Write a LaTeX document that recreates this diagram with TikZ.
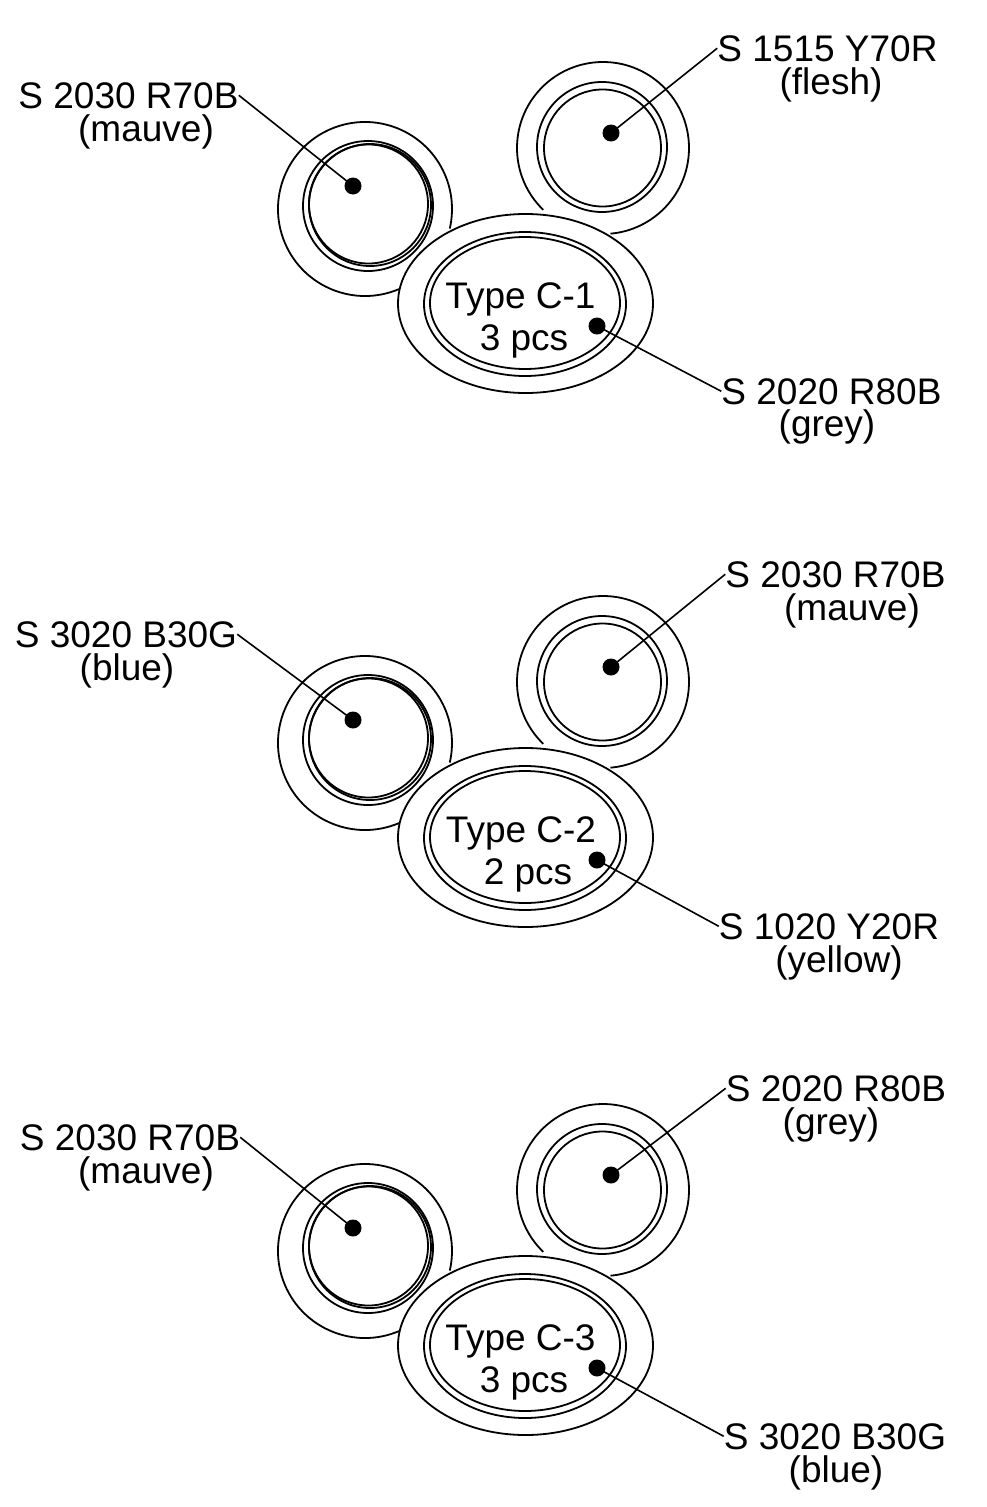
\documentclass[tikz,border=0pt]{standalone}
\usepackage{fontspec}
\setmainfont{Liberation Sans}
\tikzset{
  ring/.style={line width=1.8pt},
  dot/.style={circle, fill=black, inner sep=0pt, minimum size=17pt},
  lbl/.style={anchor=base, inner sep=0pt, font=\fontsize{37}{40}\selectfont},
  lead/.style={line width=1.6pt},
}
\newcommand\ringgroup[2]{%
 \begin{scope}[shift={(0,#2)}]
  % left circle
  \draw[ring] (365,209) ++(67:87) arc[start angle=67,end angle=373,radius=87];
  \draw[ring] (368,206) circle[radius=65];
  \draw[ring] (368.5,204) circle[radius=59.5];
  \draw[ring] (370,205) circle[radius=61];
  % top right circle
  \draw[ring] (603,148) ++(134:86) arc[start angle=134,end angle=445,radius=86];
  \draw[ring] (602,147) circle[radius=65];
  \draw[ring] (602.5,148) circle[radius=58.5];
  % ellipse
  \draw[ring] (525.5,303.5) ellipse[x radius=127.5, y radius=89.5];
  \draw[ring] (525,304) ellipse[x radius=101, y radius=72];
  \draw[ring] (525,303) ellipse[x radius=95, y radius=66];
  % dots
  \node[dot] (d#1L) at (353,186) {};
  \node[dot] (d#1R) at (611,133) {};
  \node[dot] (d#1E) at (597,326) {};
 \end{scope}}
\begin{document}
\begin{tikzpicture}[x=1pt,y=-1pt]
\useasboundingbox (0,0) rectangle (986,1507);
\fill[white] (0,0) rectangle (986,1507);

% ---------- group 1 ----------
\ringgroup{1}{0}
\node[lbl] (t1a) at (520.5,308) {Type C-1};
\node[lbl] (t1b) at (524,350) {3 pcs};
\node[lbl] (L1a) at (128.5,108) {S 2030 R70B};
\node[lbl] (L1b) at (146,141) {(mauve)};
\node[lbl] (R1a) at (827.5,61) {S 1515 Y70R};
\node[lbl] (R1b) at (831,94) {(flesh)};
\node[lbl] (E1a) at (831.5,404) {S 2020 R80B};
\node[lbl] (E1b) at (827,436) {(grey)};
\draw[lead] (L1a.east) -- (d1L.center);
\draw[lead] (R1a.west) -- (d1R.center);
\draw[lead] (E1a.west) -- (d1E.center);

% ---------- group 2 ----------
\ringgroup{2}{534}
\node[lbl] (t2a) at (521,842) {Type C-2};
\node[lbl] (t2b) at (528,884) {2 pcs};
\node[lbl] (L2a) at (126,647) {S 3020 B30G};
\node[lbl] (L2b) at (127,680) {(blue)};
\node[lbl] (R2a) at (835.5,587) {S 2030 R70B};
\node[lbl] (R2b) at (852,620) {(mauve)};
\node[lbl] (E2a) at (829,939) {S 1020 Y20R};
\node[lbl] (E2b) at (839,972) {(yellow)};
\draw[lead] (L2a.east) -- (d2L.center);
\draw[lead] (R2a.west) -- (d2R.center);
\draw[lead] (E2a.west) -- (d2E.center);

% ---------- group 3 ----------
\ringgroup{3}{1042}
\node[lbl] (t3a) at (520.5,1350) {Type C-3};
\node[lbl] (t3b) at (524,1392) {3 pcs};
\node[lbl] (L3a) at (130,1150) {S 2030 R70B};
\node[lbl] (L3b) at (146,1183) {(mauve)};
\node[lbl] (R3a) at (836,1101) {S 2020 R80B};
\node[lbl] (R3b) at (831,1134) {(grey)};
\node[lbl] (E3a) at (835,1449) {S 3020 B30G};
\node[lbl] (E3b) at (836,1482) {(blue)};
\draw[lead] (L3a.east) -- (d3L.center);
\draw[lead] (R3a.west) -- (d3R.center);
\draw[lead] (E3a.west) -- (d3E.center);
\end{tikzpicture}
\end{document}
